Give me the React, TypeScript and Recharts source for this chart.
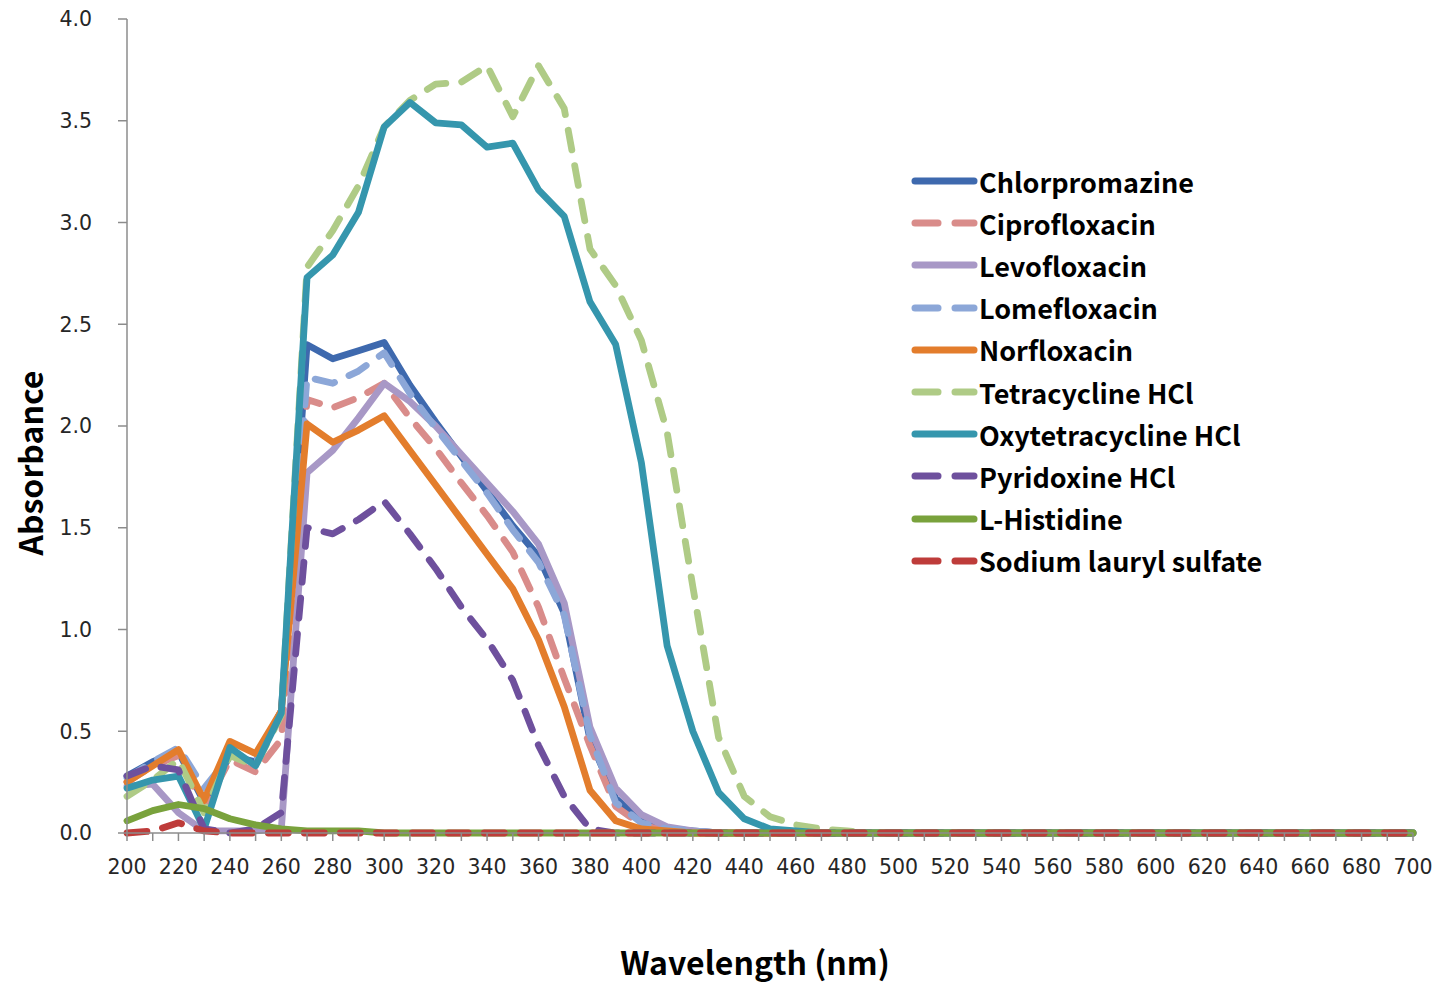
import React from 'react'
import { LineChart, Line, XAxis, YAxis, Legend } from 'recharts'

const wavelengths = [
  200, 210, 220, 230, 240, 250, 260, 270, 280, 290, 300, 310, 320, 330, 340, 350, 360, 370, 380, 390,
  400, 410, 420, 430, 440, 450, 460, 470, 480, 490, 500, 510, 520, 530, 540, 550, 560, 570, 580, 590,
  600, 610, 620, 630, 640, 650, 660, 670, 680, 690, 700,
]

const yTicks = [0, 0.5, 1, 1.5, 2, 2.5, 3, 3.5, 4]

// values 200..700 nm every 10 nm
const chlorpromazine = [
  0.28, 0.35, 0.4, 0.15, 0.38, 0.35, 0.6, 2.4, 2.33, 2.37, 2.41, 2.2, 2.02, 1.85, 1.68, 1.51, 1.36, 1.08, 0.46, 0.17,
  0.06, 0.02, 0.01, 0, 0, 0, 0, 0, 0, 0, 0, 0, 0, 0, 0, 0, 0, 0, 0, 0,
  0, 0, 0, 0, 0, 0, 0, 0, 0, 0, 0,
]
const ciprofloxacin = [
  0.25, 0.33, 0.38, 0.12, 0.36, 0.3, 0.46, 2.13, 2.09, 2.14, 2.21, 2.04, 1.89, 1.72, 1.56, 1.38, 1.11, 0.76, 0.43, 0.13,
  0.04, 0.01, 0, 0, 0, 0, 0, 0, 0, 0, 0, 0, 0, 0, 0, 0, 0, 0, 0, 0,
  0, 0, 0, 0, 0, 0, 0, 0, 0, 0, 0,
]
const levofloxacin = [
  0.23, 0.24, 0.1, 0.01, 0.01, 0.01, 0.02, 1.77, 1.88, 2.04, 2.21, 2.12, 2.0, 1.86, 1.72, 1.58, 1.42, 1.13, 0.52, 0.22,
  0.09, 0.03, 0.01, 0, 0, 0, 0, 0, 0, 0, 0, 0, 0, 0, 0, 0, 0, 0, 0, 0,
  0, 0, 0, 0, 0, 0, 0, 0, 0, 0, 0,
]
const lomefloxacin = [
  0.27, 0.35, 0.42, 0.22, 0.38, 0.35, 0.6, 2.24, 2.21, 2.27, 2.36, 2.16, 1.99, 1.83, 1.67, 1.49, 1.33, 1.07, 0.48, 0.15,
  0.05, 0.02, 0.01, 0, 0, 0, 0, 0, 0, 0, 0, 0, 0, 0, 0, 0, 0, 0, 0, 0,
  0, 0, 0, 0, 0, 0, 0, 0, 0, 0, 0,
]
const norfloxacin = [
  0.25, 0.33, 0.41, 0.16, 0.45, 0.39, 0.6, 2.01, 1.92, 1.98, 2.05, 1.88, 1.71, 1.54, 1.37, 1.2, 0.95, 0.62, 0.21, 0.06,
  0.02, 0.01, 0, 0, 0, 0, 0, 0, 0, 0, 0, 0, 0, 0, 0, 0, 0, 0, 0, 0,
  0, 0, 0, 0, 0, 0, 0, 0, 0, 0, 0,
]
const tetracycline = [
  0.18, 0.26, 0.36, 0.1, 0.38, 0.33, 0.58, 2.78, 2.96, 3.18, 3.47, 3.6, 3.68, 3.69, 3.77, 3.52, 3.77, 3.56, 2.87, 2.69,
  2.42, 1.97, 1.21, 0.47, 0.18, 0.08, 0.04, 0.02, 0.01, 0, 0, 0, 0, 0, 0, 0, 0, 0, 0, 0,
  0, 0, 0, 0, 0, 0, 0, 0, 0, 0, 0,
]
const oxytetracycline = [
  0.22, 0.26, 0.28, 0.02, 0.42, 0.33, 0.59, 2.73, 2.84, 3.05, 3.47, 3.59, 3.49, 3.48, 3.37, 3.39, 3.16, 3.03, 2.61, 2.4,
  1.82, 0.92, 0.5, 0.2, 0.07, 0.02, 0.01, 0, 0, 0, 0, 0, 0, 0, 0, 0, 0, 0, 0, 0,
  0, 0, 0, 0, 0, 0, 0, 0, 0, 0, 0,
]
const pyridoxine = [
  0.28, 0.33, 0.31, 0.02, 0, 0.02, 0.1, 1.5, 1.47, 1.54, 1.63, 1.47, 1.3, 1.11, 0.95, 0.75, 0.43, 0.18, 0.02, 0,
  0, 0, 0, 0, 0, 0, 0, 0, 0, 0, 0, 0, 0, 0, 0, 0, 0, 0, 0, 0,
  0, 0, 0, 0, 0, 0, 0, 0, 0, 0, 0,
]
const histidine = [
  0.06, 0.11, 0.14, 0.12, 0.07, 0.04, 0.02, 0.01, 0.01, 0.01, 0, 0, 0, 0, 0, 0, 0, 0, 0, 0,
  0, 0, 0, 0, 0, 0, 0, 0, 0, 0, 0, 0, 0, 0, 0, 0, 0, 0, 0, 0,
  0, 0, 0, 0, 0, 0, 0, 0, 0, 0, 0,
]
const sls = [
  0, 0.01, 0.05, 0.01, 0, 0, 0, 0, 0, 0, 0, 0, 0, 0, 0, 0, 0, 0, 0, 0,
  0, 0, 0, 0, 0, 0, 0, 0, 0, 0, 0, 0, 0, 0, 0, 0, 0, 0, 0, 0,
  0, 0, 0, 0, 0, 0, 0, 0, 0, 0, 0,
]

const series = [
  { key: 'chlorpromazine', name: 'Chlorpromazine', color: '#3E69AE', dashed: false, values: chlorpromazine },
  { key: 'ciprofloxacin', name: 'Ciprofloxacin', color: '#D98C8A', dashed: true, values: ciprofloxacin },
  { key: 'levofloxacin', name: 'Levofloxacin', color: '#A898C6', dashed: false, values: levofloxacin },
  { key: 'lomefloxacin', name: 'Lomefloxacin', color: '#8CA7D8', dashed: true, values: lomefloxacin },
  { key: 'norfloxacin', name: 'Norfloxacin', color: '#E37D2C', dashed: false, values: norfloxacin },
  { key: 'tetracycline', name: 'Tetracycline HCl', color: '#AFCB86', dashed: true, values: tetracycline },
  { key: 'oxytetracycline', name: 'Oxytetracycline HCl', color: '#3596AD', dashed: false, values: oxytetracycline },
  { key: 'pyridoxine', name: 'Pyridoxine HCl', color: '#6E509D', dashed: true, values: pyridoxine },
  { key: 'histidine', name: 'L-Histidine', color: '#79A23C', dashed: false, values: histidine },
  { key: 'sls', name: 'Sodium lauryl sulfate', color: '#BE3C3A', dashed: true, values: sls },
]

const data = wavelengths.map((nm, i) => {
  const row: Record<string, number> = { nm }
  series.forEach((s) => {
    row[s.key] = s.values[i]
  })
  return row
})

const titleFont = '"Noto Sans CJK KR", "Noto Sans", sans-serif'
const tickFont = '"DejaVu Sans", Verdana, sans-serif'

const renderLegend = () => (
  <div style={{ fontFamily: titleFont, fontWeight: 700, fontSize: 27, color: '#000' }}>
    {series.map((s) => (
      <div key={s.key} style={{ display: 'flex', alignItems: 'center', height: 42.2 }}>
        <svg width={70} height={12} style={{ marginRight: 0 }}>
          {s.dashed ? (
            <>
              <line x1={6} y1={6} x2={29} y2={6} stroke={s.color} strokeWidth={7} strokeLinecap="round" />
              <line x1={46} y1={6} x2={65} y2={6} stroke={s.color} strokeWidth={7} strokeLinecap="round" />
            </>
          ) : (
            <line x1={6} y1={6} x2={65} y2={6} stroke={s.color} strokeWidth={7} strokeLinecap="round" />
          )}
        </svg>
        <span style={{ lineHeight: 1 }}>{s.name}</span>
      </div>
    ))}
  </div>
)

export default function App() {
  return (
    <div style={{ position: 'absolute', left: 0, top: 0, width: 1451, height: 985, background: '#fff', overflow: 'hidden' }}>
      <LineChart width={1451} height={985} data={data} margin={{ top: 19, right: 38, left: 0, bottom: 0 }}>
        <XAxis
          dataKey="nm"
          type="number"
          domain={[200, 700]}
          ticks={wavelengths}
          interval={0}
          tickFormatter={(v: number) => (v % 20 === 0 ? String(v) : '')}
          height={152}
          tickSize={8}
          tickMargin={18}
          axisLine={{ stroke: '#8c8c8c', strokeWidth: 1.5 }}
          tickLine={{ stroke: '#8c8c8c', strokeWidth: 1.5 }}
          tick={{ fill: '#262626', fontSize: 20.5, fontFamily: tickFont }}
        />
        <YAxis
          type="number"
          domain={[0, 4]}
          ticks={yTicks}
          interval={0}
          tickFormatter={(v: number) => v.toFixed(1)}
          width={127}
          tickSize={9}
          tickMargin={26}
          axisLine={{ stroke: '#8c8c8c', strokeWidth: 1.5 }}
          tickLine={{ stroke: '#8c8c8c', strokeWidth: 1.5 }}
          tick={{ fill: '#262626', fontSize: 20.5, fontFamily: tickFont }}
        />
        <Legend
          layout="vertical"
          align="center"
          verticalAlign="middle"
          wrapperStyle={{ position: 'absolute', left: 909, top: 160, width: 420 }}
          content={renderLegend}
        />
        {series.map((s) => (
          <Line
            key={s.key}
            type="linear"
            dataKey={s.key}
            name={s.name}
            stroke={s.color}
            strokeWidth={6.8}
            strokeLinecap="round"
            strokeLinejoin="round"
            strokeDasharray={s.dashed ? '20 16' : undefined}
            dot={false}
            activeDot={false}
            isAnimationActive={false}
          />
        ))}
      </LineChart>
      <div
        style={{
          position: 'absolute',
          left: 29,
          top: 463,
          transform: 'translate(-50%, -50%) rotate(-90deg)',
          fontFamily: titleFont,
          fontWeight: 700,
          fontSize: 32,
          lineHeight: 1,
          color: '#000',
          whiteSpace: 'nowrap',
        }}
      >
        Absorbance
      </div>
      <div
        style={{
          position: 'absolute',
          left: 755,
          top: 962,
          transform: 'translate(-50%, -50%)',
          fontFamily: titleFont,
          fontWeight: 700,
          fontSize: 32,
          lineHeight: 1.1,
          color: '#000',
          whiteSpace: 'nowrap',
        }}
      >
        Wavelength (nm)
      </div>
    </div>
  )
}
